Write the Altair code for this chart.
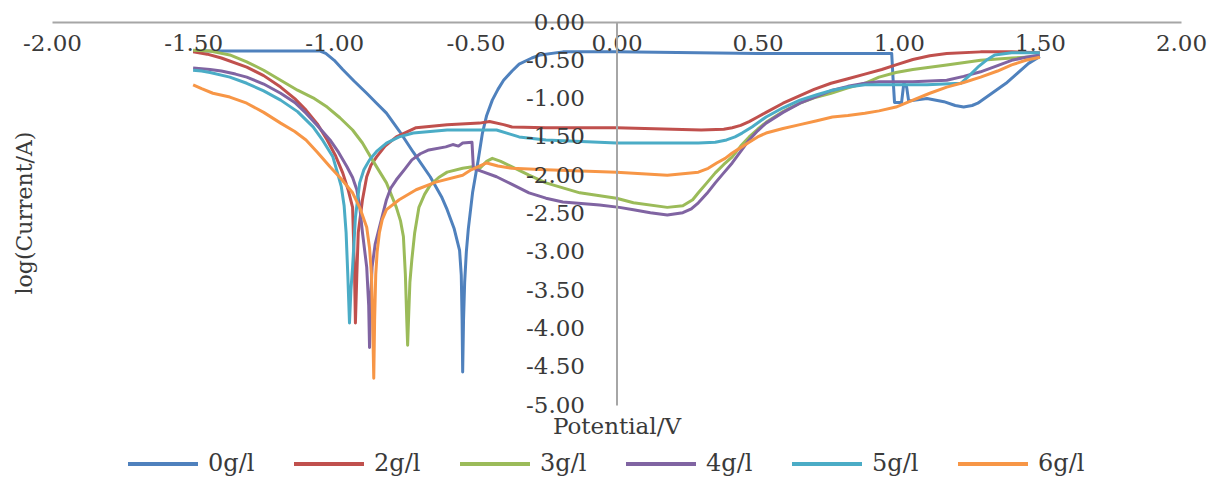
import altair as alt
import pandas as pd

# ---- data (potential in V, log current) ----
v0 = [-1.50, -1.05, -1.03, -1.00, -0.97, -0.93, -0.885, -0.85, -0.815, -0.77, -0.72, -0.66, -0.62,
      -0.60, -0.575, -0.556, -0.55, -0.547, -0.545, -0.542, -0.538, -0.532, -0.525, -0.51, -0.49,
      -0.475, -0.46, -0.44, -0.42, -0.40, -0.37, -0.345, -0.30, -0.27, -0.19, 0.0, 0.50, 0.975,
      0.98, 0.985, 1.01, 1.018, 1.028, 1.035, 1.06, 1.10, 1.16, 1.20, 1.23, 1.26, 1.28, 1.33,
      1.38, 1.42, 1.46, 1.50]
l0 = [-0.38, -0.38, -0.41, -0.50, -0.62, -0.77, -0.93, -1.06, -1.19, -1.42, -1.70, -2.02, -2.28,
      -2.45, -2.70, -2.98, -3.3, -3.9, -4.57, -3.9, -3.4, -3.0, -2.70, -2.23, -1.80,
      -1.45, -1.22, -1.02, -0.88, -0.76, -0.64, -0.55, -0.47, -0.43, -0.39, -0.39, -0.41, -0.41,
      -0.75, -1.05, -1.05, -0.80, -0.85, -1.03, -1.02, -1.00, -1.04, -1.09, -1.11, -1.09, -1.06, -0.93,
      -0.80, -0.67, -0.54, -0.45]

v2 = [-1.50, -1.45, -1.40, -1.31, -1.25, -1.19, -1.14, -1.10, -1.06, -1.025, -0.995, -0.97,
      -0.95, -0.935, -0.928, -0.925, -0.92, -0.915, -0.90, -0.885, -0.87, -0.85, -0.82, -0.78,
      -0.74, -0.71, -0.60, -0.485, -0.45, -0.40, -0.37, -0.25, 0.0, 0.30, 0.38, 0.41, 0.44,
      0.47, 0.50, 0.53, 0.59, 0.65, 0.70, 0.76, 0.82, 0.88, 0.94, 0.99, 1.05, 1.11, 1.17,
      1.29, 1.40, 1.50]
l2 = [-0.39, -0.42, -0.47, -0.59, -0.70, -0.85, -1.00, -1.15, -1.33, -1.54, -1.75, -1.97,
      -2.20, -2.42, -3.3, -3.93, -3.3, -2.75, -2.32, -2.02, -1.87, -1.76, -1.62, -1.50,
      -1.43, -1.38, -1.34, -1.32, -1.30, -1.34, -1.37, -1.38, -1.38, -1.41, -1.40, -1.38, -1.35,
      -1.30, -1.24, -1.18, -1.06, -0.96, -0.88, -0.80, -0.74, -0.68, -0.62, -0.56, -0.49, -0.44, -0.41,
      -0.39, -0.39, -0.40]

v3 = [-1.50, -1.44, -1.37, -1.31, -1.25, -1.19, -1.13, -1.075, -1.025, -0.98, -0.935, -0.90,
      -0.865, -0.84, -0.815, -0.78, -0.765, -0.755, -0.748, -0.743, -0.74, -0.737, -0.732, -0.725,
      -0.715, -0.70, -0.68, -0.66, -0.63, -0.60, -0.545, -0.51, -0.49, -0.46, -0.44, -0.41,
      -0.37, -0.31, -0.25, -0.13, 0.0, 0.06, 0.18, 0.235, 0.27, 0.29, 0.32, 0.35, 0.38, 0.41,
      0.44, 0.47, 0.50, 0.53, 0.59, 0.65, 0.70, 0.76, 0.82, 0.88, 0.93, 0.99, 1.05, 1.17, 1.29,
      1.40, 1.50]
l3 = [-0.37, -0.38, -0.43, -0.52, -0.63, -0.76, -0.89, -0.99, -1.11, -1.25, -1.41, -1.58,
      -1.80, -1.95, -2.10, -2.42, -2.60, -2.80, -3.3, -3.9, -4.22, -3.9, -3.4, -3.1,
      -2.75, -2.42, -2.25, -2.13, -2.03, -1.96, -1.91, -1.89, -1.93, -1.82, -1.78, -1.82,
      -1.89, -2.00, -2.10, -2.23, -2.30, -2.36, -2.42, -2.40, -2.32, -2.23, -2.10, -1.97, -1.86, -1.76,
      -1.62, -1.50, -1.40, -1.31, -1.17, -1.06, -0.99, -0.93, -0.86, -0.80, -0.72, -0.66, -0.62, -0.56, -0.50,
      -0.47, -0.45]

v4 = [-1.50, -1.44, -1.40, -1.35, -1.31, -1.25, -1.19, -1.14, -1.10, -1.06, -1.015, -0.985,
      -0.955, -0.935, -0.92, -0.91, -0.90, -0.885, -0.878, -0.875, -0.872, -0.866, -0.855, -0.84,
      -0.815, -0.80, -0.78, -0.75, -0.725, -0.695, -0.665, -0.605, -0.58, -0.56, -0.545, -0.512,
      -0.507, -0.47, -0.425, -0.37, -0.31, -0.25, -0.19, -0.06, 0.01, 0.06, 0.12, 0.18, 0.235,
      0.265, 0.29, 0.32, 0.35, 0.38, 0.41, 0.44, 0.47, 0.50, 0.53, 0.59, 0.65, 0.71, 0.765, 0.82,
      0.88, 0.93, 1.05, 1.17, 1.23, 1.29, 1.35, 1.40, 1.45, 1.50]
l4 = [-0.60, -0.62, -0.64, -0.68, -0.72, -0.81, -0.93, -1.05, -1.19, -1.35, -1.54, -1.70,
      -1.89, -2.03, -2.19, -2.40, -2.75, -3.20, -3.7, -4.25, -3.7, -3.20, -2.90, -2.68,
      -2.32, -2.17, -2.06, -1.92, -1.80, -1.72, -1.67, -1.63, -1.60, -1.62, -1.58, -1.57,
      -1.91, -1.96, -2.02, -2.12, -2.23, -2.30, -2.35, -2.39, -2.42, -2.45, -2.49, -2.52, -2.49,
      -2.44, -2.36, -2.24, -2.10, -1.97, -1.84, -1.69, -1.54, -1.42, -1.32, -1.18, -1.06, -0.97, -0.89, -0.84,
      -0.80, -0.78, -0.78, -0.76, -0.71, -0.65, -0.57, -0.50, -0.46, -0.43]

v5 = [-1.50, -1.47, -1.44, -1.37, -1.31, -1.25, -1.19, -1.13, -1.075, -1.04, -1.005, -0.99,
      -0.975, -0.965, -0.958, -0.952, -0.946, -0.941, -0.935, -0.925, -0.91, -0.895, -0.875, -0.85,
      -0.815, -0.77, -0.72, -0.60, -0.485, -0.425, -0.38, -0.345, -0.25, 0.0, 0.18, 0.29, 0.35,
      0.39, 0.42, 0.445, 0.48, 0.53, 0.59, 0.65, 0.71, 0.765, 0.82, 0.88, 1.0, 1.10, 1.22, 1.25,
      1.28, 1.31, 1.34, 1.40, 1.50]
l5 = [-0.63, -0.64, -0.66, -0.72, -0.80, -0.90, -1.02, -1.17, -1.37, -1.55, -1.76, -1.95,
      -2.15, -2.40, -2.75, -3.3, -3.93, -3.5, -3.20, -2.55, -2.10, -1.93, -1.80, -1.69,
      -1.58, -1.50, -1.45, -1.41, -1.41, -1.41, -1.46, -1.50, -1.54, -1.58, -1.58, -1.58, -1.57,
      -1.54, -1.50, -1.45, -1.37, -1.24, -1.12, -1.02, -0.95, -0.89, -0.85, -0.82, -0.82, -0.82, -0.80, -0.70,
      -0.59, -0.50, -0.43, -0.40, -0.40]

v6 = [-1.50, -1.47, -1.43, -1.37, -1.31, -1.25, -1.19, -1.14, -1.10, -1.06, -1.015, -0.975,
      -0.935, -0.91, -0.885, -0.875, -0.868, -0.864, -0.86, -0.857, -0.853, -0.848, -0.84, -0.83,
      -0.815, -0.77, -0.71, -0.64, -0.545, -0.515, -0.46, -0.42, -0.37, -0.25, 0.0, 0.18, 0.29,
      0.325, 0.355, 0.385, 0.41, 0.44, 0.47, 0.50, 0.53, 0.59, 0.65, 0.71, 0.765, 0.82, 0.88,
      0.93, 0.99, 1.05, 1.11, 1.17, 1.23, 1.29, 1.35, 1.40, 1.45, 1.50]
l6 = [-0.82, -0.87, -0.93, -0.98, -1.06, -1.18, -1.32, -1.43, -1.54, -1.70, -1.89, -2.05,
      -2.23, -2.42, -2.68, -2.95, -3.3, -3.9, -4.65, -3.9, -3.30, -3.0, -2.75, -2.58,
      -2.45, -2.32, -2.19, -2.09, -2.00, -1.93, -1.84, -1.88, -1.91, -1.93, -1.96, -2.00, -1.96,
      -1.91, -1.84, -1.78, -1.71, -1.64, -1.57, -1.50, -1.45, -1.39, -1.34, -1.29, -1.24, -1.22, -1.19,
      -1.16, -1.11, -1.02, -0.93, -0.85, -0.79, -0.72, -0.64, -0.56, -0.50, -0.46]

series_names = ["0g/l", "2g/l", "3g/l", "4g/l", "5g/l", "6g/l"]
series_colors = ["#4F81BD", "#C0504D", "#9BBB59", "#8064A2", "#4BACC6", "#F79646"]
x_ticks = [-2.0, -1.5, -1.0, -0.5, 0.0, 0.5, 1.0, 1.5, 2.0]
y_ticks = [0.0, -0.5, -1.0, -1.5, -2.0, -2.5, -3.0, -3.5, -4.0, -4.5, -5.0]

rows = []
for name, vs, ls in zip(series_names, [v0, v2, v3, v4, v5, v6], [l0, l2, l3, l4, l5, l6]):
    for i, (v, l) in enumerate(zip(vs, ls)):
        rows.append({"V": v, "L": l, "series": name, "i": i})
df = pd.DataFrame(rows)

FONT = "DejaVu Serif"
TXT = "#3a3a3a"
AX = "#A6A6A6"
W, H = 1129, 383

lab_expr = "replace(format(datum.value, '.2f'), '\u2212', '-')"

lines = alt.Chart(df).mark_line(strokeWidth=3, strokeJoin="round").encode(
    x=alt.X("V:Q", scale=alt.Scale(domain=[-2, 2], nice=False, zero=False),
            axis=alt.Axis(orient="bottom", offset=-H, values=x_ticks, labelExpr=lab_expr,
                          title=None, grid=False, ticks=False, domainColor=AX, domainWidth=2,
                          labelFont=FONT, labelFontSize=23, labelColor=TXT, labelPadding=10,
                          labelFlush=False, labelOverlap=False, zindex=1)),
    y=alt.Y("L:Q", scale=alt.Scale(domain=[-5, 0], nice=False, zero=False),
            axis=alt.Axis(orient="left", offset=-(616.5 - 52), values=y_ticks, labelExpr=lab_expr,
                          title=None, grid=False, ticks=False, domainColor=AX, domainWidth=2,
                          labelFont=FONT, labelFontSize=23, labelColor=TXT, labelPadding=32,
                          labelOverlap=False, labelFlush=False, zindex=1)),
    color=alt.Color("series:N", scale=alt.Scale(domain=series_names, range=series_colors),
                    legend=alt.Legend(orient="none", direction="horizontal", legendX=74, legendY=405,
                                      title=None, symbolType="stroke", symbolSize=4900,
                                      symbolStrokeWidth=4, labelFont=FONT, labelFontSize=24,
                                      labelColor=TXT, labelOffset=8, columnPadding=31)),
    order=alt.Order("i:Q"),
)

xtitle = alt.Chart(pd.DataFrame({"t": ["Potential/V"]})).mark_text(
    font=FONT, fontSize=23, color=TXT, baseline="middle", align="center"
).encode(text="t:N", x=alt.value(565), y=alt.value(405))

ytitle = alt.Chart(pd.DataFrame({"t": ["log(Current/A)"]})).mark_text(
    font=FONT, fontSize=22, color=TXT, baseline="middle", align="center", angle=270
).encode(text="t:N", x=alt.value(-27), y=alt.value(191))

chart = alt.layer(lines, xtitle, ytitle).properties(
    width=W, height=H,
    padding={"left": 52, "top": 22, "right": 33, "bottom": 97},
    autosize=alt.AutoSizeParams(type="none"),
    background="white",
).configure_view(stroke=None)

chart.save("out.html", embed_options={"renderer": "svg", "actions": False})
